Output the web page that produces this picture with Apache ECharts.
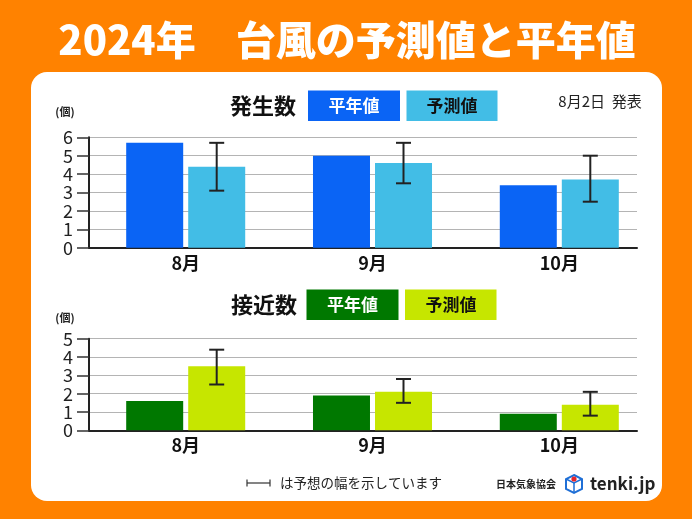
<!DOCTYPE html>
<html><head><meta charset="utf-8">
<script src="https://cdn.jsdelivr.net/npm/echarts@6/dist/echarts.min.js"></script>
<style>html,body{margin:0;padding:0;background:#FF8200;}#c{width:692px;height:519px;}</style>
</head><body><div id="c"></div>
<script>
const months = ['8月', '9月', '10月'];
// 発生数 (genesis)
const genNormal = [5.7, 5.0, 3.4];
const genForecast = [4.4, 4.6, 3.7];
const genLow = [3.1, 3.5, 2.5];
const genHigh = [5.7, 5.7, 5.0];
const genTicks = [0, 1, 2, 3, 4, 5, 6];
// 接近数 (approach)
const apNormal = [1.6, 1.9, 0.9];
const apForecast = [3.5, 2.1, 1.4];
const apLow = [2.5, 1.5, 0.8];
const apHigh = [4.4, 2.8, 2.1];
const apTicks = [0, 1, 2, 3, 4, 5];

const FONT = '"Noto Sans CJK JP", "Noto Sans", sans-serif';
const BAR_W = 57, GAP = 5;

const chart = echarts.init(document.getElementById('c'), null, {renderer: 'canvas'});

function axisGrid(idx, ticks) {
  return {
    yAxis: {
      gridIndex: idx, type: 'value', min: ticks[0], max: ticks[ticks.length - 1], interval: 1,
      axisLine: {show: true, lineStyle: {color: '#222', width: 2}},
      axisTick: {show: true, length: 12, lineStyle: {color: '#333', width: 1.5}},
      splitLine: {show: true, lineStyle: {color: '#b4b4b4', width: 1}},
      axisLabel: {color: '#222', fontSize: 18, fontFamily: FONT, margin: 16, padding: [0, 0, 9, 0]}
    },
    xAxis: {
      gridIndex: idx, type: 'category', data: months,
      axisLine: {show: true, lineStyle: {color: '#222', width: 2}},
      axisTick: {show: false}, axisLabel: {show: false}, splitLine: {show: false}
    }
  };
}
function barGrid(idx, max) {
  return {
    yAxis: {gridIndex: idx, type: 'value', min: 0, max: max, show: false, splitLine: {show: false}},
    xAxis: {
      gridIndex: idx, type: 'category', data: months,
      axisLine: {show: false}, axisTick: {show: false},
      axisLabel: {color: '#111', fontSize: 18, fontWeight: 'bold', fontFamily: FONT, margin: 6}
    }
  };
}
const a0 = axisGrid(0, genTicks), b1 = barGrid(1, 6), a2 = axisGrid(2, apTicks), b3 = barGrid(3, 5);

function errSeries(idx, low, high) {
  return {
    type: 'custom', xAxisIndex: idx, yAxisIndex: idx, z: 10,
    data: months.map((m, i) => [i, low[i], high[i]]),
    encode: {x: 0, y: [1, 2]},
    renderItem: function (params, api) {
      const off = (BAR_W + GAP) / 2;
      const top = api.coord([api.value(0), api.value(2)]);
      const bot = api.coord([api.value(0), api.value(1)]);
      const x = top[0] + off, hw = 7.5;
      const st = {stroke: '#222', lineWidth: 2};
      return {type: 'group', children: [
        {type: 'line', shape: {x1: x, y1: top[1], x2: x, y2: bot[1]}, style: st},
        {type: 'line', shape: {x1: x - hw, y1: top[1], x2: x + hw, y2: top[1]}, style: st},
        {type: 'line', shape: {x1: x - hw, y1: bot[1], x2: x + hw, y2: bot[1]}, style: st}
      ]};
    }
  };
}
function barSeries(idx, data, color, name) {
  return {type: 'bar', name: name, xAxisIndex: idx, yAxisIndex: idx, data: data,
    barWidth: BAR_W, barGap: (GAP / BAR_W * 100).toFixed(1) + '%',
    itemStyle: {color: color}, silent: true, z: 5};
}

const txt = (x, y, text, size, weight, color, align, extra) => Object.assign({
  type: 'text', x: x, y: y, z: 50,
  style: {text: text, fontSize: size, fontWeight: weight, fill: color, fontFamily: FONT,
    align: align || 'left', verticalAlign: 'middle'}
}, extra || {});

const graphic = [
  {type: 'rect', z: -10, shape: {x: 31, y: 72, width: 631, height: 429, r: 16}, style: {fill: '#fff'}},
  {type: 'text', x: 347, y: 40, z: 50,
    style: {text: '2024年　台風の予測値と平年値', fontSize: 40, fontWeight: 900, fill: '#fff', fontFamily: FONT,
      align: 'center', verticalAlign: 'middle', shadowColor: 'rgba(80,30,0,0.45)', shadowBlur: 3, shadowOffsetX: 2, shadowOffsetY: 2}},
  txt(263, 106, '発生数', 22, 'bold', '#111', 'center'),
  {type: 'rect', z: 40, shape: {x: 308, y: 90.5, width: 92, height: 30.5}, style: {fill: '#0A64F5'}},
  txt(354, 106, '平年値', 17, 'bold', '#fff', 'center'),
  {type: 'rect', z: 40, shape: {x: 406.5, y: 90.5, width: 91, height: 30.5}, style: {fill: '#42BDE6'}},
  txt(452, 106, '予測値', 17, 'bold', '#111', 'center'),
  txt(600, 101, '8月2日  発表', 15, 'normal', '#222', 'center'),
  txt(65, 112, '(個)', 11, 'bold', '#222', 'center'),
  txt(264, 305, '接近数', 22, 'bold', '#111', 'center'),
  {type: 'rect', z: 40, shape: {x: 306.5, y: 289.5, width: 92, height: 30.5}, style: {fill: '#007800'}},
  txt(352.5, 305, '平年値', 17, 'bold', '#fff', 'center'),
  {type: 'rect', z: 40, shape: {x: 405, y: 289.5, width: 91.5, height: 30.5}, style: {fill: '#C6E600'}},
  txt(451, 305, '予測値', 17, 'bold', '#111', 'center'),
  txt(65, 318, '(個)', 11, 'bold', '#222', 'center'),
  // footer
  {type: 'group', z: 50, children: [
    {type: 'line', shape: {x1: 247, y1: 483, x2: 270, y2: 483}, style: {stroke: '#333', lineWidth: 1.2}},
    {type: 'line', shape: {x1: 247, y1: 479.5, x2: 247, y2: 486.5}, style: {stroke: '#333', lineWidth: 1.2}},
    {type: 'line', shape: {x1: 270, y1: 479.5, x2: 270, y2: 486.5}, style: {stroke: '#333', lineWidth: 1.2}}
  ]},
  txt(280, 483, 'は予想の幅を示しています', 13.5, 'normal', '#222', 'left'),
  txt(496, 484, '日本気象協会', 10, 'bold', '#222', 'left'),
  {type: 'group', z: 50, x: 574, y: 484, children: [
    {type: 'polygon', shape: {points: [[0, -9], [8, -5], [8, 5], [0, 9], [-8, 5], [-8, -5]]},
      style: {fill: '#fff', stroke: '#1f6fd6', lineWidth: 2}},
    {type: 'polyline', shape: {points: [[-8, -5], [0, -1], [8, -5]]}, style: {stroke: '#1f6fd6', lineWidth: 1.5, fill: null}},
    {type: 'line', shape: {x1: 0, y1: -1, x2: 0, y2: 9}, style: {stroke: '#1f6fd6', lineWidth: 1.5}},
    {type: 'circle', shape: {cx: 0, cy: -5, r: 2.6}, style: {fill: '#e8262a'}}
  ]},
  txt(590, 484, 'tenki.jp', 17, 'bold', '#222', 'left')
];

chart.setOption({
  backgroundColor: '#FF8200',
  animation: false,
  grid: [
    {left: 89, top: 137.3, width: 548, height: 110.4},
    {left: 92.3, top: 137.3, width: 560.4, height: 110.4},
    {left: 89, top: 338.7, width: 548, height: 91.6},
    {left: 92.3, top: 338.7, width: 560.4, height: 91.6}
  ],
  xAxis: [a0.xAxis, b1.xAxis, a2.xAxis, b3.xAxis],
  yAxis: [a0.yAxis, b1.yAxis, a2.yAxis, b3.yAxis],
  series: [
    barSeries(1, genNormal, '#0A64F5', '平年値'),
    barSeries(1, genForecast, '#42BDE6', '予測値'),
    errSeries(1, genLow, genHigh),
    barSeries(3, apNormal, '#007800', '平年値'),
    barSeries(3, apForecast, '#C6E600', '予測値'),
    errSeries(3, apLow, apHigh)
  ],
  graphic: graphic
});
</script></body></html>
